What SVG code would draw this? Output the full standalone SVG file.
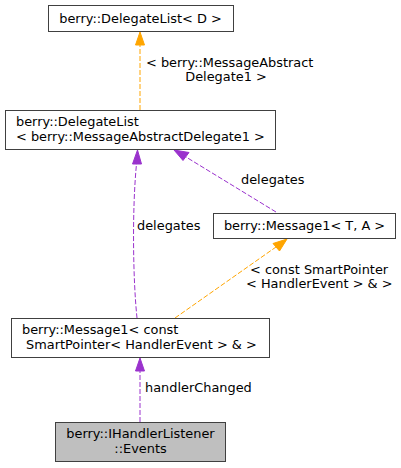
<svg xmlns="http://www.w3.org/2000/svg" width="401" height="468" viewBox="0 0 401 468">
<style>
text{font-family:"DejaVu Sans","Liberation Sans",sans-serif;font-size:12.9px;fill:#000}
.box{fill:#fff;stroke:#404040;stroke-width:1}
.cur{fill:#bfbfbf;stroke:#404040;stroke-width:1}
.p{fill:none;stroke:#9a32cd;stroke-dasharray:5,2}
.o{fill:none;stroke:#ffa500;stroke-dasharray:5,2}
.ph{fill:#9a32cd;stroke:#9a32cd}
.oh{fill:#ffa500;stroke:#ffa500}
</style>
<rect width="401" height="468" fill="#fff"/>
<g id="edges">
<path class="o" d="M140,110 L140,45"/>
<polygon class="oh" points="140,32 144.5,45 135.5,45"/>
<text x="146" y="67">&lt; berry::MessageAbstract</text>
<text x="226" y="81" text-anchor="middle">Delegate1 &gt;</text>

<path class="p" d="M137,318 C133,280 132,210 136.5,164"/>
<polygon class="ph" points="137.5,150 141.5,164 132.5,164"/>
<text x="137" y="230">delegates</text>

<path class="p" d="M276,212 L186,157"/>
<polygon class="ph" points="174,150 189,152.5 183,160.5"/>
<text x="241" y="184">delegates</text>

<path class="o" d="M175,318 L276,247"/>
<polygon class="oh" points="287,239 279.5,251 273,243.5"/>
<text x="250" y="274">&lt; const SmartPointer</text>
<text x="246" y="288">&lt; HandlerEvent &gt; &amp; &gt;</text>

<path class="p" d="M140,422 L140,371"/>
<polygon class="ph" points="140,358 144.5,371 135.5,371"/>
<text x="145" y="392">handlerChanged</text>
</g>
<g id="node1">
<rect class="box" x="48.5" y="5.5" width="185" height="26"/>
<text x="140.5" y="22.5" text-anchor="middle">berry::DelegateList&lt; D &gt;</text>
</g>
<g id="node2">
<rect class="box" x="5.5" y="110.5" width="270" height="39"/>
<text x="16" y="126">berry::DelegateList</text>
<text x="16" y="141">&lt; berry::MessageAbstractDelegate1 &gt;</text>
</g>
<g id="node3">
<rect class="box" x="213.5" y="213.5" width="182" height="25"/>
<text x="304.5" y="230" text-anchor="middle">berry::Message1&lt; T, A &gt;</text>
</g>
<g id="node4">
<rect class="box" x="11.5" y="318.5" width="258" height="39"/>
<text x="22" y="334">berry::Message1&lt; const</text>
<text x="26" y="349">SmartPointer&lt; HandlerEvent &gt; &amp; &gt;</text>
</g>
<g id="node5">
<rect class="cur" x="55.5" y="422.5" width="170" height="39"/>
<text x="140.5" y="438" text-anchor="middle">berry::IHandlerListener</text>
<text x="140.5" y="453" text-anchor="middle">::Events</text>
</g>
</svg>
